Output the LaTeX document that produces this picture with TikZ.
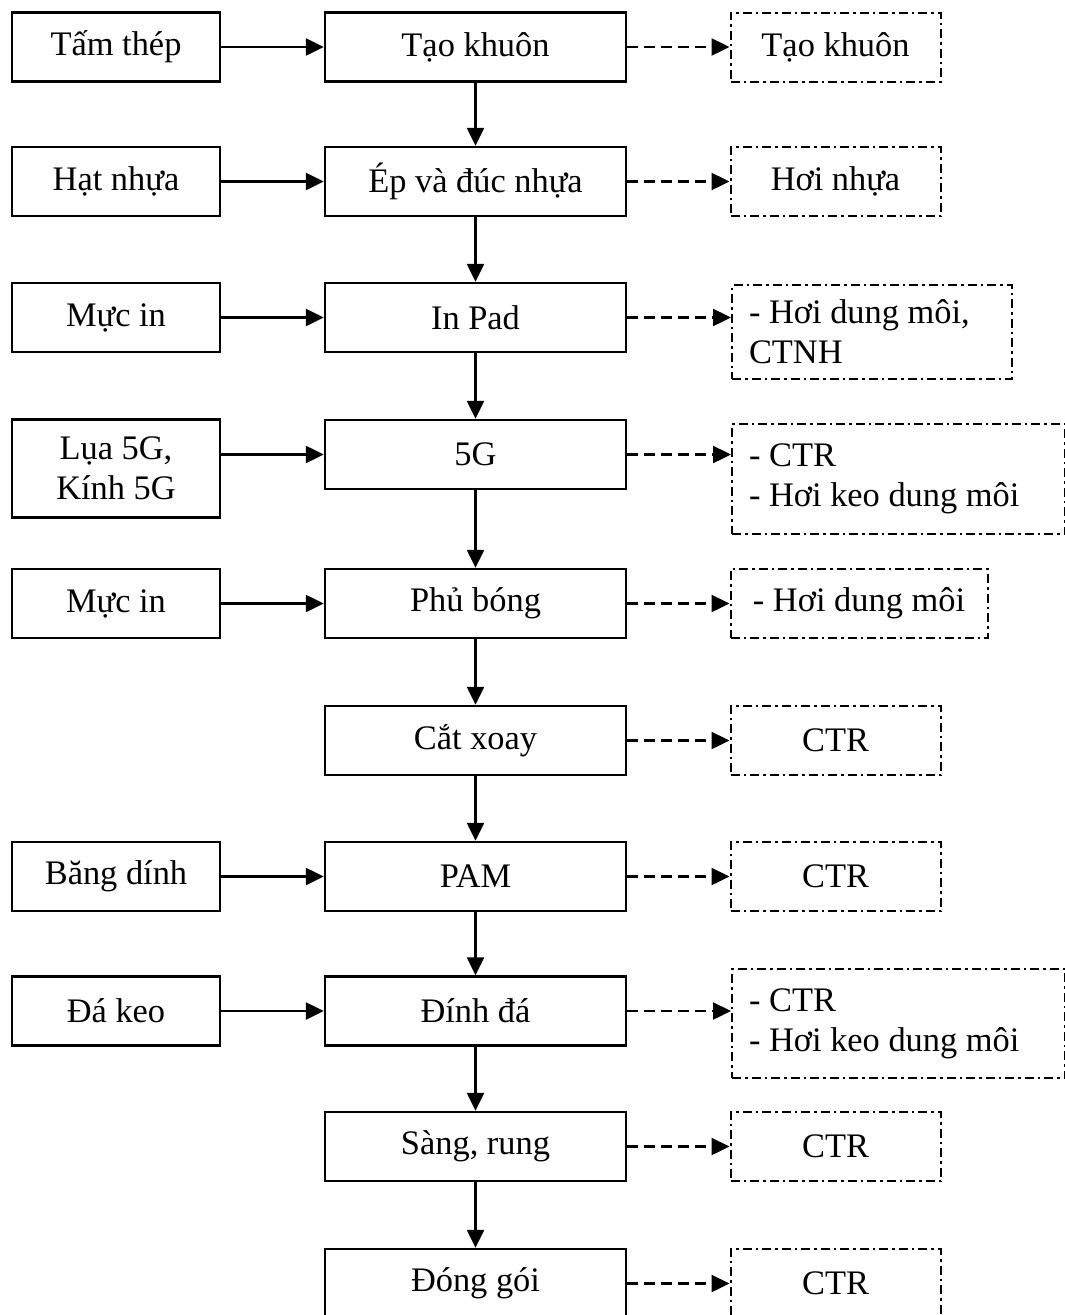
\documentclass[tikz,border=0pt]{standalone}
\usepackage{fontspec}
\setmainfont{Liberation Serif}
\usetikzlibrary{arrows.meta}
\begin{document}
\begin{tikzpicture}[x=1pt,y=-1pt,
  font=\fontsize{34.4}{40}\selectfont,
  box/.style={draw, line width=2.4pt, minimum height=69pt, inner sep=0pt, align=center},
  mbox/.style={box, minimum width=301pt},
  lbox/.style={box, minimum width=208pt},
  rbox/.style={draw, line width=2pt, dash pattern=on 9pt off 4pt on 2.5pt off 4pt, inner xsep=17pt, inner ysep=0pt, minimum height=69pt},
  rboxc/.style={rbox, align=center, minimum width=210pt},
  rboxl/.style={rbox, align=flush left, anchor=north west},
  flow/.style={line width=2.4pt, -{Triangle[length=18pt,width=17pt]}},
  waste/.style={flow, dash pattern=on 11pt off 6pt},
]
\useasboundingbox (0,0) rectangle (1065,1315);

% middle column
\node[mbox] (m1)  at (475.5,47)     {Tạo khuôn};
\node[mbox] (m2)  at (475.5,181.5)  {Ép và đúc nhựa};
\node[mbox] (m3)  at (475.5,317.5)  {In Pad};
\node[mbox] (m4)  at (475.5,454.5)  {5G};
\node[mbox] (m5)  at (475.5,603.5)  {Phủ bóng};
\node[mbox] (m6)  at (475.5,740.5)  {Cắt xoay};
\node[mbox] (m7)  at (475.5,876.5)  {PAM};
\node[mbox] (m8)  at (475.5,1011)   {Đính đá};
\node[mbox] (m9)  at (475.5,1146.5) {Sàng, rung};
\node[mbox] (m10) at (475.5,1283.5) {Đóng gói};

% left column
\node[lbox] (l1) at (116,47)    {Tấm thép};
\node[lbox] (l2) at (116,181.5) {Hạt nhựa};
\node[lbox] (l3) at (116,317.5) {Mực in};
\node[lbox, minimum height=98pt] (l4) at (116,468.5) {Lụa 5G,\\Kính 5G};
\node[lbox] (l5) at (116,603.5) {Mực in};
\node[lbox] (l7) at (116,876.5) {Băng dính};
\node[lbox] (l8) at (116,1011)  {Đá keo};

% right column
\node[rboxc] (r1) at (835.5,47)    {Tạo khuôn};
\node[rboxc] (r2) at (835.5,181.5) {Hơi nhựa};
\node[rboxl, text width=246pt, minimum height=94pt] (r3) at (731,284) {- Hơi dung môi,\\CTNH};
\node[rboxl, text width=299pt, minimum height=110pt] (r4) at (731,423) {- CTR\\- Hơi keo dung môi};
\node[rboxc, minimum width=257pt] (r5) at (859,603.5) {- Hơi dung môi};
\node[rboxc] (r6) at (835.5,740.5) {CTR};
\node[rboxc] (r7) at (835.5,876.5) {CTR};
\node[rboxl, text width=299pt, minimum height=109pt] (r8) at (731,968) {- CTR\\- Hơi keo dung môi};
\node[rboxc] (r9) at (835.5,1146.5) {CTR};
\node[rboxc] (r10) at (835.5,1283.5) {CTR};

% inputs
\foreach \i in {1,2,3,4,5,7,8} \draw[flow] (l\i.east |- m\i.west) -- (m\i.west);
% main flow
\foreach \i/\j in {1/2,2/3,3/4,4/5,5/6,6/7,7/8,8/9,9/10} \draw[flow] (m\i.south) -- (m\j.north);
% wastes
\foreach \i in {1,...,10} \draw[waste] (m\i.east) -- (m\i.east -| r\i.west);
\end{tikzpicture}
\end{document}
